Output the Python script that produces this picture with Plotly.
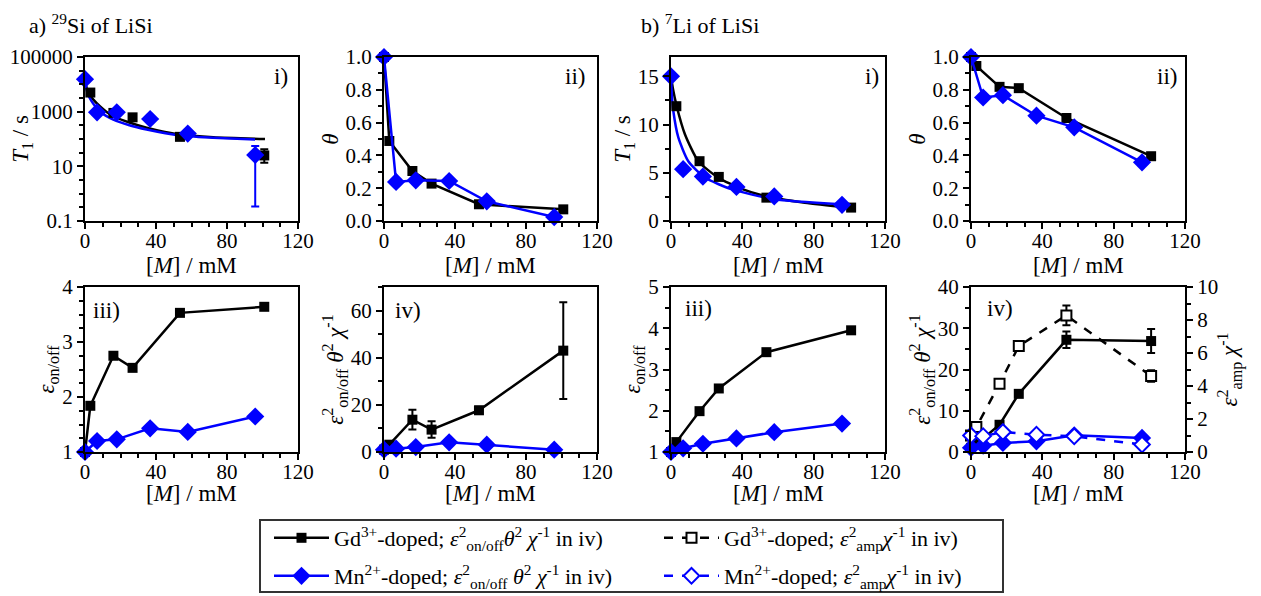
import plotly.graph_objects as go

# ---------------- data ----------------
gd_x = [0, 3, 16, 26.8, 53.5, 101]
mn_x = [0, 6.8, 17.9, 36.7, 57.9, 95.9]

# a-i) 29Si T1 (s), Gd points start at x=3
si_gd_t1 = [5000, 900, 620, 120, 25]
si_gd_t1_err_plus = [0, 0, 0, 0, 17]
si_gd_t1_err_minus = [0, 0, 0, 0, 11.5]
si_mn_t1 = [15500, 950, 950, 540, 158, 26]
si_mn_t1_err_plus = [0, 0, 0, 0, 0, 29]
si_mn_t1_err_minus = [0, 0, 0, 0, 0, 25.66]
# fitted curves
si_gd_fit_x = [0, 1, 2.5, 4.7, 8.5, 12, 16, 25, 34.7, 45, 53.5, 72.3, 101.4]
si_gd_fit_y = [14000, 7000, 4300, 2750, 1550, 1000, 680, 400, 257, 180, 145, 117, 100]
si_mn_fit_x = [0, 1, 2.5, 4.7, 8.5, 16, 25, 34.7, 53.5, 72, 95.8]
si_mn_fit_y = [15500, 6000, 3300, 1950, 1000, 513, 320, 224, 135, 112, 95]

# a-ii) 29Si theta
si_gd_theta = [1.0, 0.488, 0.305, 0.228, 0.102, 0.071]
si_mn_theta = [1.0, 0.238, 0.248, 0.244, 0.12, 0.024]

# a-iii) 29Si eps on/off
si_gd_eps = [1.0, 1.84, 2.75, 2.53, 3.53, 3.64]
si_mn_eps = [1.0, 1.2, 1.23, 1.43, 1.365, 1.645]

# a-iv) 29Si eps^2 theta^2 / chi
si_gd_fom = [1.0, 3.1, 13.7, 9.5, 17.7, 43]
si_gd_fom_err = [0, 0.5, 4.2, 3.5, 1.5, 20.5]
si_mn_fom = [1.0, 1.4, 2.1, 4.1, 3.1, 1.0]

# b-i) 7Li T1 (s), Gd points start at x=3
li_gd_t1 = [11.9, 6.2, 4.57, 2.42, 1.39]
li_mn_t1 = [15.0, 5.37, 4.6, 3.53, 2.55, 1.68]
li_gd_fit_x = [0, 1, 3.2, 7.8, 15.3, 26.4, 40, 52.5, 75, 99.9]
li_gd_fit_y = [15.0, 13.8, 11.9, 9.0, 6.2, 4.5, 3.3, 2.6, 1.9, 1.39]
li_mn_fit_x = [0, 0.5, 1.3, 4.1, 9.7, 19, 33.9, 58, 95.3]
li_mn_fit_y = [15.0, 13.0, 11.4, 8.66, 6.2, 4.5, 3.3, 2.25, 1.73]

# b-ii) 7Li theta
li_gd_theta = [1.0, 0.945, 0.818, 0.81, 0.628, 0.395]
li_mn_theta = [1.0, 0.753, 0.767, 0.642, 0.571, 0.358]

# b-iii) 7Li eps on/off
li_gd_eps = [1.0, 1.24, 1.99, 2.54, 3.42, 3.95]
li_mn_eps = [1.0, 1.09, 1.2, 1.33, 1.48, 1.69]

# b-iv) 7Li eps^2 theta^2 / chi (left) and eps_amp^2 / chi (right)
li_gd_fom = [1.0, 1.9, 6.6, 14.1, 27.2, 26.9]
li_gd_fom_err = [0, 0, 0.5, 0.5, 2.0, 2.9]
li_gd_amp = [1.0, 1.52, 4.13, 6.42, 8.28, 4.6]
li_gd_amp_err = [0, 0, 0.2, 0.3, 0.6, 0.35]
li_mn_fom = [1.0, 1.54, 2.19, 2.59, 4.05, 3.4]
li_mn_amp = [1.0, 0.96, 1.21, 1.05, 0.95, 0.45]

legend_gd = "Gd<sup>3+</sup>-doped; <i>ε</i><sup>2</sup><sub>on/off</sub><i>θ</i><sup>2</sup> <i>χ</i><sup>-1</sup> in iv)"
legend_gd_amp = "Gd<sup>3+</sup>-doped; <i>ε</i><sup>2</sup><sub>amp</sub><i>χ</i><sup>-1</sup> in iv)"
legend_mn = "Mn<sup>2+</sup>-doped; <i>ε</i><sup>2</sup><sub>on/off</sub> <i>θ</i><sup>2</sup> <i>χ</i><sup>-1</sup> in iv)"
legend_mn_amp = "Mn<sup>2+</sup>-doped; <i>ε</i><sup>2</sup><sub>amp</sub><i>χ</i><sup>-1</sup> in iv)"
x_title = "[<i>M</i>] / mM"

# ---------------- styling ----------------
FONT = "Liberation Serif, Times New Roman, DejaVu Serif, serif"
BLACK = "#000000"
BLUE = "#0000FF"
# the page body has an 8 px margin, so the figure is drawn 8 px in from the window
OFF = 8
W, H = 1261 - OFF, 596 - OFF


def fx(px):
    return (px - OFF) / W


def fy(py):
    return 1 - (py - OFF) / H


SQ = dict(symbol="square", size=10, color=BLACK)
DI = dict(symbol="diamond", size=14, color=BLUE)
SQ_OPEN = dict(symbol="square", size=10, color="white", line=dict(color=BLACK, width=2))
DI_OPEN = dict(symbol="diamond", size=12, color="white", line=dict(color=BLUE, width=2))

fig = go.Figure()


def add(x, y, xa, ya, color, marker=None, mode="lines+markers", dash="solid",
        err=None, errp=None, errm=None, name=None, legend=None, shape="linear"):
    kw = {}
    if err is not None:
        kw["error_y"] = dict(type="data", array=err, color=color, thickness=2, width=4, visible=True)
    if errp is not None:
        kw["error_y"] = dict(type="data", array=errp, arrayminus=errm, symmetric=False,
                             color=color, thickness=2, width=4, visible=True)
    fig.add_trace(go.Scatter(
        x=x, y=y, xaxis=xa, yaxis=ya, mode=mode,
        line=dict(color=color, width=2.5, dash=dash, shape=shape, smoothing=0.6),
        marker=marker, cliponaxis=False,
        showlegend=name is not None, name=name, legend=legend, **kw))


# a-i
add(si_gd_fit_x, si_gd_fit_y, "x", "y", BLACK, mode="lines", shape="spline")
add(si_mn_fit_x, si_mn_fit_y, "x", "y", BLUE, mode="lines", shape="spline")
add(gd_x[1:], si_gd_t1, "x", "y", BLACK, SQ, mode="markers",
    errp=si_gd_t1_err_plus, errm=si_gd_t1_err_minus)
add(mn_x, si_mn_t1, "x", "y", BLUE, DI, mode="markers",
    errp=si_mn_t1_err_plus, errm=si_mn_t1_err_minus)
# a-ii
add(gd_x, si_gd_theta, "x2", "y2", BLACK, SQ)
add(mn_x, si_mn_theta, "x2", "y2", BLUE, DI)
# b-i
add(li_gd_fit_x, li_gd_fit_y, "x3", "y3", BLACK, mode="lines", shape="spline")
add(li_mn_fit_x, li_mn_fit_y, "x3", "y3", BLUE, mode="lines", shape="spline")
add(gd_x[1:], li_gd_t1, "x3", "y3", BLACK, SQ, mode="markers")
add(mn_x, li_mn_t1, "x3", "y3", BLUE, DI, mode="markers")
# b-ii
add(gd_x, li_gd_theta, "x4", "y4", BLACK, SQ)
add(mn_x, li_mn_theta, "x4", "y4", BLUE, DI)
# a-iii
add(gd_x, si_gd_eps, "x5", "y5", BLACK, SQ)
add(mn_x, si_mn_eps, "x5", "y5", BLUE, DI)
# a-iv
add(gd_x, si_gd_fom, "x6", "y6", BLACK, SQ, err=si_gd_fom_err)
add(mn_x, si_mn_fom, "x6", "y6", BLUE, DI)
# b-iii
add(gd_x, li_gd_eps, "x7", "y7", BLACK, SQ)
add(mn_x, li_mn_eps, "x7", "y7", BLUE, DI)
# b-iv
add(gd_x, li_gd_amp, "x8", "y9", BLACK, SQ_OPEN, dash="dash", err=li_gd_amp_err,
    name=legend_gd_amp, legend="legend")
add(mn_x, li_mn_amp, "x8", "y9", BLUE, DI_OPEN, dash="dash",
    name=legend_mn_amp, legend="legend2")
add(gd_x, li_gd_fom, "x8", "y8", BLACK, SQ, err=li_gd_fom_err,
    name=legend_gd, legend="legend")
add(mn_x, li_mn_fom, "x8", "y8", BLUE, DI, name=legend_mn, legend="legend2")

# legend order: solid first, then dashed
for tr in fig.data:
    if tr.name == legend_gd or tr.name == legend_mn:
        tr.legendrank = 1
    elif tr.name is not None:
        tr.legendrank = 2

# ---------------- axes ----------------
cols = [(85, 298), (384, 597), (671, 885), (971, 1185)]
rows = [(57, 221), (287, 452)]
xtitle_y = [266, 493]


def xd(c):
    return [fx(cols[c][0]), fx(cols[c][1])]


def yd(r):
    return [fy(rows[r][1]), fy(rows[r][0])]


tickfont = dict(family=FONT, size=21, color=BLACK)
titlefont = dict(family=FONT, size=23, color=BLACK)


def base_axis():
    return dict(showline=True, linecolor=BLACK, linewidth=2, mirror=True,
                ticks="outside", ticklen=6, tickwidth=2, tickcolor=BLACK,
                showgrid=False, zeroline=False, tickfont=tickfont, automargin=False,
                title=dict(font=titlefont))


layout_axes = {}
panel_pos = [(0, 0), (1, 0), (2, 0), (3, 0), (0, 1), (1, 1), (2, 1), (3, 1)]
for i, (c, r) in enumerate(panel_pos):
    n = "" if i == 0 else str(i + 1)
    ax = base_axis()
    ax.update(domain=xd(c), range=[0, 120], tickvals=[0, 40, 80, 120], anchor="y" + n,
              ticklabelstandoff=-6,
              minor=dict(ticks="outside", ticklen=4, tickwidth=1.5, tickcolor=BLACK, dtick=10, tick0=0))
    layout_axes["xaxis" + n] = ax

ylabels = [
    "<i>T</i><sub>1</sub> / s", "<i>θ</i>", "<i>T</i><sub>1</sub> / s", "<i>θ</i>",
    "<i>ε</i><sub>on/off</sub>",
    "<i>ε</i><sup>2</sup><sub>on/off</sub> <i>θ</i><sup>2</sup> <i>χ</i><sup>-1</sup>",
    "<i>ε</i><sub>on/off</sub>",
    "<i>ε</i><sup>2</sup><sub>on/off</sub> <i>θ</i><sup>2</sup> <i>χ</i><sup>-1</sup>",
]
yspecs = [
    dict(type="log", range=[-1, 5], tickvals=[0.1, 10, 1000, 100000],
         ticktext=["0.1", "10", "1000", "100000"],
         minor_vals=[10 ** (k / 2) for k in range(-2, 11)]),
    dict(range=[0, 1], dtick=0.2, tickformat=".1f", minor=0.1),
    dict(range=[0, 17], dtick=5, minor=2.5),
    dict(range=[0, 1], dtick=0.2, tickformat=".1f", minor=0.1),
    dict(range=[1, 4], dtick=1, minor=0.25),
    dict(range=[0, 70], dtick=20, minor=10),
    dict(range=[1, 5], dtick=1, minor=0.5),
    dict(range=[0, 40], dtick=10, minor=5),
]
for i, (c, r) in enumerate(panel_pos):
    n = "" if i == 0 else str(i + 1)
    spec = dict(yspecs[i])
    ax = base_axis()
    ax.update(domain=yd(r), anchor="x" + n)
    mnr = dict(ticks="outside", ticklen=4, tickwidth=1.5, tickcolor=BLACK)
    if "minor_vals" in spec:
        mnr["tickvals"] = spec.pop("minor_vals")
    else:
        mnr["dtick"] = spec.pop("minor")
        mnr["tick0"] = 0
    ax["minor"] = mnr
    ax.update(spec)
    ax["title"]["text"] = ylabels[i]
    ax["title"]["standoff"] = 0
    layout_axes["yaxis" + n] = ax

# right axis of b-iv
ax9 = base_axis()
ax9.update(overlaying="y8", side="right", anchor="x8", range=[0, 10], dtick=2,
           mirror=False,
           minor=dict(ticks="outside", ticklen=4, tickwidth=1.5, tickcolor=BLACK, dtick=1, tick0=0))
ax9["title"]["text"] = "<i>ε</i><sup>2</sup><sub>amp</sub> <i>χ</i><sup>-1</sup>"
ax9["title"]["standoff"] = 4
layout_axes["yaxis9"] = ax9

fig.update_layout(**layout_axes)

# ---------------- annotations ----------------
ann = []


def note(text, px, py, size=23, xanchor="center", yanchor="middle"):
    ann.append(dict(text=text, x=fx(px), y=fy(py), xref="paper", yref="paper",
                    xanchor=xanchor, yanchor=yanchor, showarrow=False,
                    font=dict(family=FONT, size=size, color=BLACK)))


note("a) <sup>29</sup>Si of LiSi", 27, 8, size=22, xanchor="left", yanchor="top")
note("b) <sup>7</sup>Li of LiSi", 639, 8, size=22, xanchor="left", yanchor="top")
note("i)", 281, 77)
note("ii)", 575, 77)
note("i)", 872, 76)
note("ii)", 1167, 77)
note("iii)", 107, 310)
note("iv)", 408, 310)
note("iii)", 698, 308)
note("iv)", 1000, 308)
# x-axis titles, centred below each panel
for (c, r) in panel_pos:
    note(x_title, (cols[c][0] + cols[c][1]) / 2, xtitle_y[r])

legfont = dict(family=FONT, size=22, color=BLACK)
fig.update_layout(
    width=W, height=H,
    margin=dict(l=0, r=0, t=0, b=0, autoexpand=False),
    paper_bgcolor="white", plot_bgcolor="white",
    font=dict(family=FONT, color=BLACK),
    annotations=ann,
    legend=dict(orientation="h", x=fx(269), y=fy(538), xanchor="left", yanchor="middle",
                font=legfont, itemwidth=55, entrywidth=320, bgcolor="rgba(0,0,0,0)",
                traceorder="normal"),
    legend2=dict(orientation="h", x=fx(269), y=fy(576), xanchor="left", yanchor="middle",
                 font=legfont, itemwidth=55, entrywidth=320, bgcolor="rgba(0,0,0,0)",
                 traceorder="normal"),
    shapes=[dict(type="rect", xref="paper", yref="paper",
                 x0=fx(260), x1=fx(1003), y0=fy(592), y1=fy(520),
                 line=dict(color="#333333", width=2), fillcolor="rgba(0,0,0,0)")],
)

fig.write_html("out.html")
